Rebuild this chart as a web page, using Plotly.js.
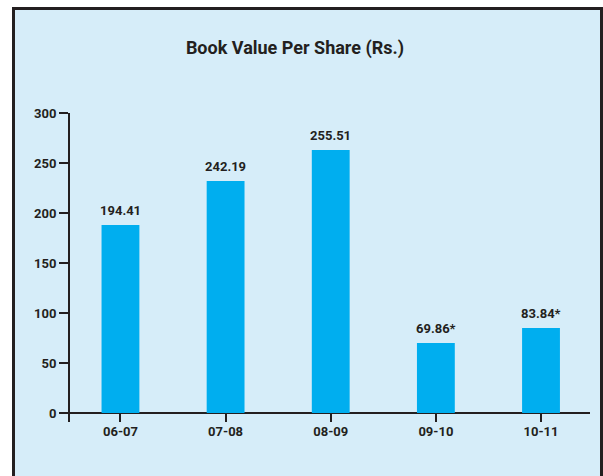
<!DOCTYPE html>
<html>
<head>
<meta charset="utf-8">
<script src="https://cdn.plot.ly/plotly-3.0.1.min.js"></script>
<style>
    body { margin: 0; padding: 0; background: #ffffff; }
    #chart { width: 603px; height: 476px; }
</style>
</head>
<body>
<div id="chart"></div>
<script>
// data
var years = ['06-07', '07-08', '08-09', '09-10', '10-11'];
var barHeights = [188, 232, 263, 70, 85];   // heights the bars are drawn at
var barLabels = ['194.41', '242.19', '255.51', '69.86*', '83.84*'];
var yTicks = [0, 50, 100, 150, 200, 250, 300];

var inkColor = '#231f20';
var barColor = '#00aeef';
var panelColor = '#d6edf9';
var fontFace = 'Roboto, "Liberation Sans", sans-serif';

// plot area in pixels (used only to place the panel frame)
var plotLeft = 70, plotRight = 590, plotTop = 113, plotBottom = 422;

function pxToPaperX(px) {
    return (px - plotLeft) / (plotRight - plotLeft);
}

function pxToPaperY(py) {
    return (plotBottom - py) / (plotBottom - plotTop);
}

window.onload = function() {
    drawChart();
};

function drawChart() {
    let trace = {
        type: 'bar',
        x: years,
        y: barHeights,
        width: 0.36,
        marker: {color: barColor},
        hoverinfo: 'none'
    };

    let labelNotes = [];
    for (let i = 0; i < years.length; i++) {
        labelNotes.push({
            x: years[i],
            y: barHeights[i],
            xref: 'x',
            yref: 'y',
            text: '<b>' + barLabels[i] + '</b>',
            showarrow: false,
            yanchor: 'middle',
            yshift: 15,
            font: {family: fontFace, size: 13, color: inkColor}
        });
    }

    let layout = {
        width: 603,
        height: 476,
        margin: {l: plotLeft, r: 603 - plotRight, t: plotTop, b: 476 - plotBottom, pad: 0},
        paper_bgcolor: '#ffffff',
        plot_bgcolor: 'rgba(0,0,0,0)',
        showlegend: false,
        font: {family: fontFace, size: 13, color: inkColor},
        title: {
            text: '<b>Book Value Per Share (Rs.)</b>',
            font: {family: fontFace, size: 18, color: inkColor},
            x: 295 / 603,
            xanchor: 'center',
            y: 1 - 48 / 476,
            yanchor: 'middle'
        },
        xaxis: {
            type: 'category',
            range: [-0.48, 4.466],
            showgrid: false,
            zeroline: false,
            showline: false,
            ticks: 'inside',
            ticklen: 9,
            tickwidth: 2,
            tickcolor: inkColor,
            tickfont: {family: fontFace, size: 13, color: inkColor},
            tickprefix: '<b>',
            ticksuffix: '</b>',
            fixedrange: true
        },
        yaxis: {
            range: [-9, 300],
            tickvals: yTicks,
            ticktext: yTicks.map(v => '<b>' + v + '</b>'),
            showgrid: false,
            zeroline: true,
            zerolinecolor: inkColor,
            zerolinewidth: 2.5,
            showline: true,
            linecolor: inkColor,
            linewidth: 2,
            ticks: 'outside',
            ticklen: 9,
            tickwidth: 2,
            tickcolor: inkColor,
            tickfont: {family: fontFace, size: 13, color: inkColor},
            fixedrange: true
        },
        shapes: [{
            type: 'rect',
            xref: 'paper',
            yref: 'paper',
            x0: pxToPaperX(13.5),
            x1: pxToPaperX(601.5),
            y0: pxToPaperY(490),
            y1: pxToPaperY(8.5),
            fillcolor: panelColor,
            line: {color: inkColor, width: 3},
            layer: 'below'
        }],
        annotations: labelNotes
    };

    Plotly.newPlot('chart', [trace], layout, {staticPlot: true, displayModeBar: false});
}
</script>
</body>
</html>
